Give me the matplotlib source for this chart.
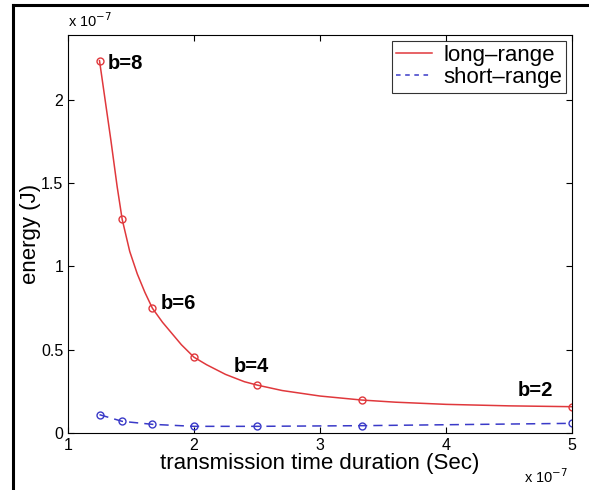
import numpy as np
import matplotlib.pyplot as plt
from matplotlib.lines import Line2D

plt.rcParams['font.family'] = ['Liberation Sans', 'DejaVu Sans']

# marker points (x in 1e-7 s, y in 1e-7 J)
b_vals = [8, 7, 6, 5, 4, 3, 2]
x_marks = [1.25, 1.43, 1.67, 2.0, 2.5, 3.33, 5.0]
long_marks = [2.236, 1.283, 0.749, 0.455, 0.288, 0.198, 0.158]
short_marks = [0.110, 0.070, 0.052, 0.040, 0.040, 0.044, 0.058]

# points
x_curve = [1.25, 1.34, 1.39, 1.43, 1.49, 1.55, 1.61, 1.67, 1.75, 1.9, 2.0, 2.1,
           2.25, 2.4, 2.5, 2.7, 3.0, 3.33, 3.6, 4.0, 4.5, 5.0]
long_curve = [2.236, 1.76, 1.48, 1.283, 1.09, 0.955, 0.845, 0.749, 0.665, 0.53,
              0.455, 0.41, 0.352, 0.308, 0.288, 0.255, 0.222, 0.198, 0.185,
              0.172, 0.163, 0.158]

labels = ["b=8", "b=6", "b=4", "b=2"]
label_x = [1.317, 1.736, 2.312, 4.566]
label_y = [2.22, 0.779, 0.398, 0.258]

red = '#e0383c'
blue = '#3a3ac8'

fig = plt.figure(figsize=(5.89, 4.90), dpi=100)
ax = fig.add_axes([68/589, 1-433/490, (572-68)/589, (433-35)/490])

ax.plot(x_curve, long_curve, color=red, lw=1.1)
ax.plot(x_marks, long_marks, 'o', mfc='none', mec=red, ms=5, mew=1.0)
ax.plot(x_marks, short_marks, '--', color=blue, lw=1.1, dashes=(6, 4),
        marker='o', mfc='none', mec=blue, ms=5, mew=1.0)

for t, tx, ty in zip(labels, label_x, label_y):
    ax.text(tx, ty, t, fontsize=14.5, fontweight='bold', va='center', ha='left')

ax.set_xlim(1, 5)
ax.set_ylim(0, 2.39)
ax.set_xticks([1, 2, 3, 4, 5])
ax.set_yticks([0, 0.5, 1, 1.5, 2])
ax.set_xticklabels(['1', '2', '3', '4', '5'])
ax.set_yticklabels(['0', '0.5', '1', '1.5', '2'])
ax.tick_params(direction='in', top=True, right=True, length=4, labelsize=11.5)
ax.set_xlabel('transmission time duration (Sec)', fontsize=16, labelpad=0)
ax.set_ylabel('energy (J)', fontsize=16, labelpad=0)

ax.text(0.0, 1.012, r'x 10$^{-7}$', transform=ax.transAxes, fontsize=10.5,
        ha='left', va='bottom')
ax.text(0.905, -0.085, r'x 10$^{-7}$', transform=ax.transAxes, fontsize=10.5,
        ha='left', va='top')

handles = [Line2D([], [], color=red, lw=1.1),
           Line2D([], [], color=blue, lw=1.1, ls='--', dashes=(3, 3))]
leg = ax.legend(handles, ['long–range', 'short–range'], loc='upper right',
                fontsize=16, frameon=True, fancybox=False, borderpad=0.2,
                handlelength=1.6, handletextpad=0.5, labelspacing=0.05,
                borderaxespad=0.25)
leg.get_frame().set_edgecolor('black')
leg.get_frame().set_linewidth(0.8)

# outer frame (top and left edges visible)
fig.add_artist(Line2D([13/589, 1], [1-5/490, 1-5/490], color='black', lw=2.2,
                      transform=fig.transFigure))
fig.add_artist(Line2D([13/589, 13/589], [0, 1-5/490], color='black', lw=2.2,
                      transform=fig.transFigure))

fig.savefig('out.png', dpi=100)
